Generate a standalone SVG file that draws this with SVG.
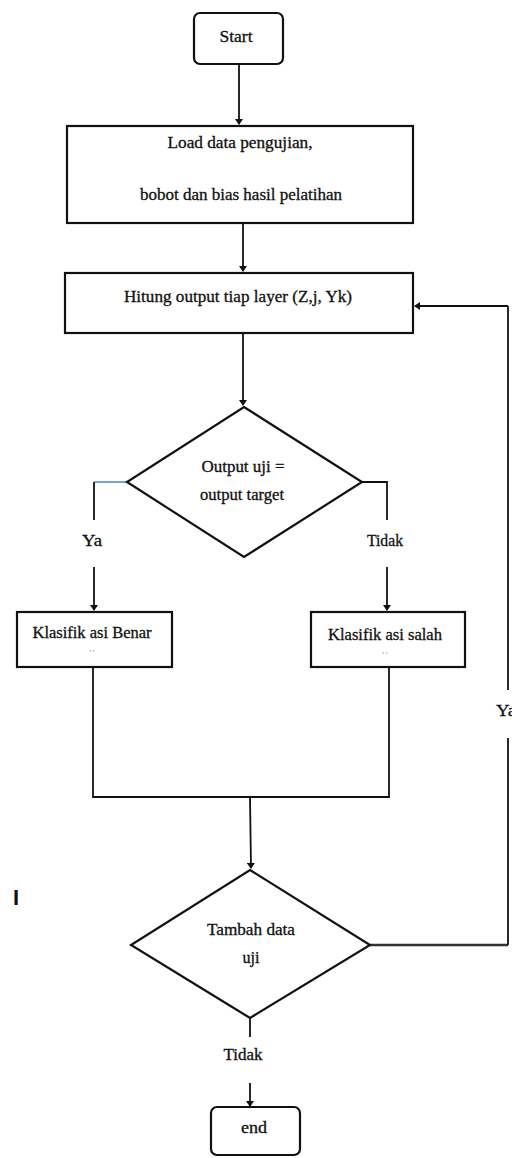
<svg xmlns="http://www.w3.org/2000/svg" width="512" height="1158" viewBox="0 0 512 1158">
<defs>
<marker id="ah" markerWidth="6" markerHeight="8" refX="5" refY="4" orient="auto" markerUnits="userSpaceOnUse">
<path d="M0,0 L6,4 L0,8 z" fill="#111"/>
</marker>
<style>
.box{fill:#fff;stroke:#111;stroke-width:2.2}
.ln{fill:none;stroke:#111;stroke-width:1.8}
.t{font-family:"Liberation Serif","Times New Roman",serif;font-size:16px;fill:#111;stroke:#111;stroke-width:0.3;text-anchor:middle}
.d{font-family:"Liberation Serif",serif;font-size:8px;fill:#a55;text-anchor:middle}
</style>
</defs>
<rect width="512" height="1158" fill="#fff"/>
<g id="connectors">
<line class="ln" x1="239" y1="64" x2="239" y2="124" marker-end="url(#ah)"/>
<line class="ln" x1="243" y1="223" x2="243" y2="271" marker-end="url(#ah)"/>
<line class="ln" x1="243" y1="333" x2="243" y2="405" marker-end="url(#ah)"/>
<line x1="127" y1="482" x2="94" y2="482" stroke="#4a86c8" stroke-width="1.4"/>
<line class="ln" x1="94" y1="482" x2="94" y2="520"/>
<line class="ln" x1="94" y1="567" x2="94" y2="610" marker-end="url(#ah)"/>
<polyline class="ln" points="362,482 387,482 387,520"/>
<line class="ln" x1="387" y1="567" x2="387" y2="610" marker-end="url(#ah)"/>
<polyline class="ln" points="93,667 93,797 389,797 389,667"/>
<line class="ln" x1="250" y1="797" x2="251" y2="868" marker-end="url(#ah)"/>
<line x1="370" y1="945" x2="508" y2="945" stroke="#333" stroke-width="2.6"/>
<line class="ln" x1="508" y1="945" x2="508" y2="738"/>
<line class="ln" x1="508" y1="690" x2="508" y2="306"/>
<line class="ln" x1="508" y1="306" x2="415" y2="306" marker-end="url(#ah)"/>
<line class="ln" x1="250" y1="1018" x2="250" y2="1037"/>
<line class="ln" x1="250" y1="1083" x2="250" y2="1106" marker-end="url(#ah)"/>
<text class="t" x="92" y="546" textLength="20" lengthAdjust="spacingAndGlyphs">Ya</text>
<text class="t" x="385" y="546" textLength="36" lengthAdjust="spacingAndGlyphs">Tidak</text>
<text class="t" x="506" y="716" textLength="20" lengthAdjust="spacingAndGlyphs">Ya</text>
<text class="t" x="243" y="1060" textLength="39" lengthAdjust="spacingAndGlyphs">Tidak</text>
</g>
<g id="start">
<rect class="box" x="194" y="13" width="89" height="51" rx="6"/>
<text class="t" x="236" y="42" textLength="33" lengthAdjust="spacingAndGlyphs">Start</text>
</g>
<g id="load">
<rect class="box" x="67" y="126" width="346" height="97"/>
<text class="t" x="240" y="148" textLength="145" lengthAdjust="spacingAndGlyphs">Load data pengujian,</text>
<text class="t" x="241" y="200" textLength="202" lengthAdjust="spacingAndGlyphs">bobot dan bias hasil pelatihan</text>
</g>
<g id="hitung">
<rect class="box" x="65" y="273" width="348" height="60"/>
<text class="t" x="238" y="302" textLength="228" lengthAdjust="spacingAndGlyphs">Hitung output tiap layer (Z,j, Yk)</text>
</g>
<g id="decision1">
<polygon class="box" points="244,407 362,482 244,557 127,482"/>
<text class="t" x="243" y="472" textLength="83" lengthAdjust="spacingAndGlyphs">Output uji =</text>
<text class="t" x="242" y="500" textLength="84" lengthAdjust="spacingAndGlyphs">output target</text>
</g>
<g id="benar">
<rect class="box" x="17" y="612" width="155" height="55"/>
<text class="t" x="92" y="638" textLength="119" lengthAdjust="spacingAndGlyphs">Klasifik asi Benar</text>
<text class="d" x="92" y="656">' '</text>
</g>
<g id="salah">
<rect class="box" x="311" y="612" width="154" height="55"/>
<text class="t" x="385" y="640" textLength="114" lengthAdjust="spacingAndGlyphs">Klasifik asi salah</text>
<text class="d" x="385" y="658">' '</text>
</g>
<g id="decision2">
<polygon class="box" points="250,870 370,945 250,1018 131,945"/>
<text class="t" x="251" y="935" textLength="88" lengthAdjust="spacingAndGlyphs">Tambah data</text>
<text class="t" x="251" y="963" textLength="17" lengthAdjust="spacingAndGlyphs">uji</text>
</g>
<g id="end">
<rect class="box" x="211" y="1107" width="89" height="48" rx="6"/>
<text class="t" x="254" y="1133" textLength="26" lengthAdjust="spacingAndGlyphs">end</text>
</g>
<text x="16" y="905" font-family="Liberation Sans,sans-serif" font-size="22" font-weight="bold" fill="#111" text-anchor="middle">I</text>
</svg>
